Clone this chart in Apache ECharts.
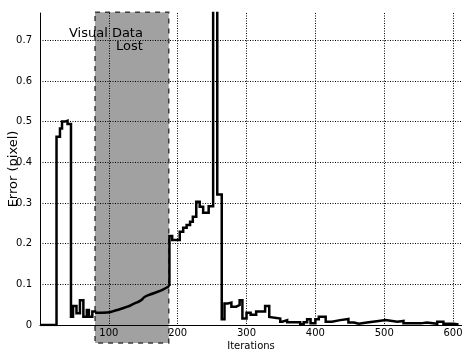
<!DOCTYPE html>
<html><head><meta charset="utf-8">
<script src="https://cdn.jsdelivr.net/npm/echarts@6/dist/echarts.min.js"></script>
<style>html,body{margin:0;padding:0;background:#fff}#c{width:462px;height:354px}</style>
</head><body><div id="c"></div>
<script>
// x axis range and tick step (iterations)
const xMin = 0, xMax = 613, xStep = 100;
// y axis range and tick step (error in pixels)
const yMin = 0, yMax = 0.767, yStep = 0.1;

// tracked error before the lost-data region (step plot)
const beforeIter = [0, 24, 29, 32, 36, 40, 45, 48, 53, 58, 63, 68, 71, 76, 80];
const beforeErr  = [0, 0.463, 0.483, 0.5, 0.502, 0.494, 0.02, 0.047, 0.029, 0.061, 0.02, 0.037, 0.02, 0.033, 0.03];

// error curve during the lost-data region
const lostIter = [80, 98, 112, 127, 136, 146, 153, 165, 177, 188];
const lostErr  = [0.03, 0.031, 0.037, 0.045, 0.052, 0.06, 0.07, 0.078, 0.086, 0.096];

// tracked error after the lost-data region (step plot)
const afterIter = [188, 188, 192, 203, 208, 213, 218, 222, 227, 232, 237, 245, 251.5, 257.5, 264,
  268, 273, 278, 285, 290, 294, 300, 306, 314, 327, 333, 335, 349, 352, 359, 378, 383, 388, 393,
  400, 405, 415, 424, 436, 448, 456, 463, 475, 492, 502, 519, 528, 553, 562, 577, 586, 601, 608];
const afterErr  = [0.096, 0.219, 0.209, 0.229, 0.239, 0.246, 0.254, 0.266, 0.303, 0.291, 0.276, 0.292, 1.0, 0.321, 0.014,
  0.053, 0.055, 0.045, 0.049, 0.061, 0.016, 0.03, 0.025, 0.033, 0.047, 0.02, 0.016, 0.008, 0.012, 0.007, 0.002, 0.007, 0.014, 0.004,
  0.014, 0.02, 0.008, 0.012, 0.015, 0.006, 0.003, 0.006, 0.01, 0.012, 0.008, 0.01, 0.004, 0.006, 0.003, 0.008, 0.003, 0.001, 0.001];

// shaded region: [iteration start, iteration end, error bottom, error top]
const lostRegion = [80, 187, -0.044, 0.769];
// annotation anchor: [iteration (right edge), error (top)] and text
const noteAnchor = [149.5, 0.733];
const noteText = 'Visual Data\nLost';

const xTitle = 'Iterations';
const yTitle = 'Error (pixel)';

const FONT = 'DejaVu Sans';
const zip = (a, b) => a.map((v, i) => [v, b[i]]);

const chart = echarts.init(document.getElementById('c'), null, {renderer: 'canvas'});
const lineBase = {
  type: 'line', showSymbol: false, symbol: 'none', clip: true, z: 3,
  lineStyle: {color: '#000', width: 2.5, join: 'miter'}, animation: false
};
const gridLine = {show: true, showMinLine: false, showMaxLine: false, lineStyle: {color: '#000', width: 1, type: [1, 1.5]}};
chart.setOption({
  animation: false,
  backgroundColor: '#fff',
  grid: {left: 40, right: 0, top: 13, bottom: 29, containLabel: false, outerBoundsMode: 'none'},
  xAxis: {
    type: 'value', min: xMin, max: xMax, interval: xStep,
    name: xTitle, nameLocation: 'middle', nameGap: 16, nameMoveOverlap: false,
    nameTextStyle: {color: '#000', fontFamily: FONT, fontSize: 10},
    axisLine: {show: true, onZero: false, lineStyle: {color: '#000', width: 1}},
    axisTick: {show: false},
    axisLabel: {color: '#000', fontFamily: FONT, fontSize: 10, margin: 3, showMinLabel: false, showMaxLabel: false},
    splitLine: gridLine
  },
  yAxis: {
    type: 'value', min: yMin, max: yMax, interval: yStep,
    name: yTitle, nameLocation: 'middle', nameGap: 20, nameRotate: 90, nameMoveOverlap: false,
    nameTextStyle: {color: '#000', fontFamily: FONT, fontSize: 13},
    axisLine: {show: true, onZero: false, lineStyle: {color: '#000', width: 1}},
    axisTick: {show: false},
    axisLabel: {color: '#000', fontFamily: FONT, fontSize: 10, margin: 8, showMaxLabel: false,
      formatter: v => v === 0 ? '0' : v.toFixed(1)},
    splitLine: gridLine
  },
  series: [
    {
      type: 'custom', z: 1, clip: false, silent: true,
      data: [lostRegion],
      renderItem: (params, api) => {
        const p0 = api.coord([api.value(0), api.value(3)]);
        const p1 = api.coord([api.value(1), api.value(2)]);
        return {
          type: 'rect',
          shape: {x: p0[0], y: p0[1], width: p1[0] - p0[0], height: p1[1] - p0[1]},
          style: {fill: 'rgba(0,0,0,0.37)', stroke: '#3a3a3a', lineWidth: 1.5, lineDash: [5, 5]}
        };
      }
    },
    Object.assign({}, lineBase, {data: zip(beforeIter, beforeErr), step: 'end'}),
    Object.assign({}, lineBase, {data: zip(lostIter, lostErr), smooth: true}),
    Object.assign({}, lineBase, {data: zip(afterIter, afterErr), step: 'end'}),
    {
      type: 'custom', z: 5, clip: false, silent: true,
      data: [noteAnchor],
      renderItem: (params, api) => {
        const p = api.coord([api.value(0), api.value(1)]);
        return {
          type: 'text',
          style: {x: p[0], y: p[1], text: noteText, fill: '#000', font: '13px "DejaVu Sans"',
            align: 'right', verticalAlign: 'top', lineHeight: 13}
        };
      }
    }
  ]
});
</script>
</body></html>
